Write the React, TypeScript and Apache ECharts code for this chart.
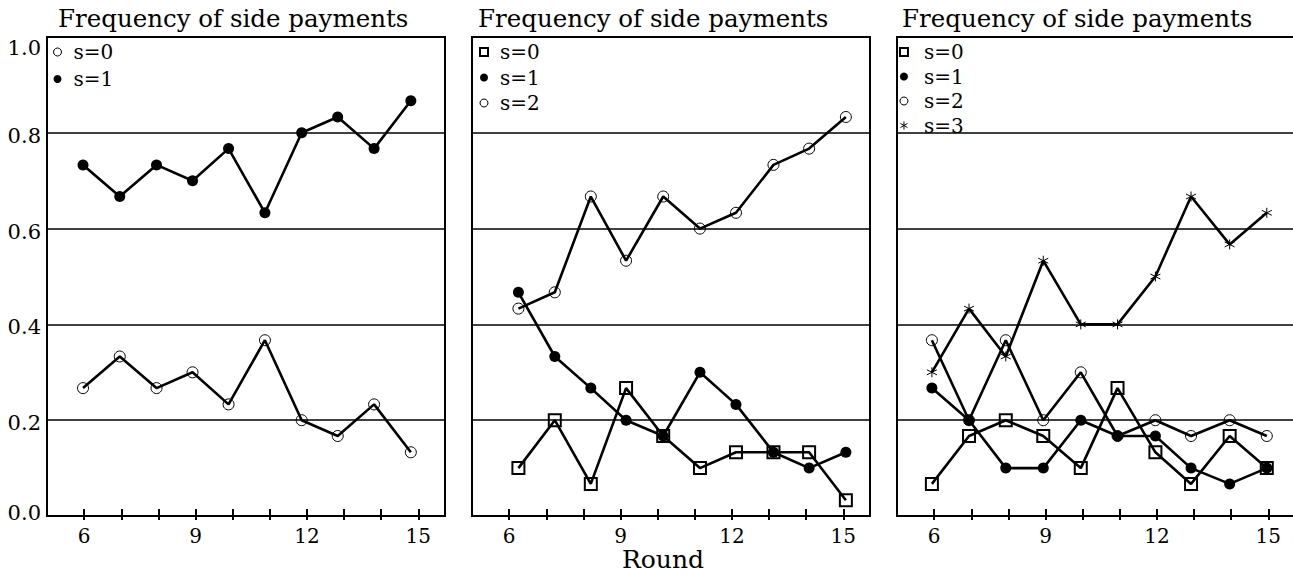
import React, { useEffect, useRef } from "react";
import * as echarts from "echarts";

// ---- data ----
const xTicks = [6, 7, 8, 9, 10, 11, 12, 13, 14, 15];
const xLabels = [6, 9, 12, 15];
const titleText = "Frequency of side payments";

// panel 1 (two states)
const panel1X = [5.97, 6.96, 7.95, 8.92, 9.89, 10.87, 11.86, 12.83, 13.81, 14.8];
const panel1S0 = [0.267, 0.333, 0.267, 0.3, 0.233, 0.367, 0.2, 0.167, 0.233, 0.133];
const panel1S1 = [0.733, 0.667, 0.733, 0.7, 0.767, 0.633, 0.8, 0.833, 0.767, 0.867];

// panel 2 (three states)
const panel2X = [6.25, 7.23, 8.2, 9.15, 10.15, 11.14, 12.11, 13.12, 14.08, 15.07];
const panel2S0 = [0.1, 0.2, 0.067, 0.267, 0.167, 0.1, 0.133, 0.133, 0.133, 0.033];
const panel2S1 = [0.467, 0.333, 0.267, 0.2, 0.167, 0.3, 0.233, 0.133, 0.1, 0.133];
const panel2S2 = [0.433, 0.467, 0.667, 0.533, 0.667, 0.6, 0.633, 0.733, 0.767, 0.833];

// panel 3 (four states)
const panel3X = [5.94, 6.94, 7.93, 8.94, 9.95, 10.94, 11.96, 12.92, 13.96, 14.96];
const panel3S0 = [0.067, 0.167, 0.2, 0.167, 0.1, 0.267, 0.133, 0.067, 0.167, 0.1];
const panel3S1 = [0.267, 0.2, 0.1, 0.1, 0.2, 0.167, 0.167, 0.1, 0.067, 0.1];
const panel3S2 = [0.367, 0.2, 0.367, 0.2, 0.3, 0.167, 0.2, 0.167, 0.2, 0.167];
const panel3S3 = [0.3, 0.433, 0.333, 0.533, 0.4, 0.4, 0.5, 0.667, 0.567, 0.633];

const FONT = "DejaVu Serif";
const STAR = "path://M0,-5L0,5M-4.33,-2.5L4.33,2.5M-4.33,2.5L4.33,-2.5";

type Marker = "hollow" | "filled" | "square" | "star";

const markerStyle = (m: Marker) => {
  switch (m) {
    case "filled":
      return { symbol: "circle", symbolSize: 11, itemStyle: { color: "#000", borderWidth: 0 } };
    case "hollow":
      return { symbol: "circle", symbolSize: 11, itemStyle: { color: "transparent", borderColor: "#000", borderWidth: 1 } };
    case "square":
      return { symbol: "rect", symbolSize: 12, itemStyle: { color: "transparent", borderColor: "#000", borderWidth: 2 } };
    case "star":
      return { symbol: STAR, symbolSize: 10, itemStyle: { color: "none", borderColor: "#000", borderWidth: 1 } };
  }
};

const legendIcon = (m: Marker) => {
  switch (m) {
    case "filled":
      return { icon: "circle", itemStyle: { color: "#000", borderWidth: 0 } };
    case "hollow":
      return { icon: "circle", itemStyle: { color: "#fff", borderColor: "#000", borderWidth: 1 } };
    case "square":
      return { icon: "rect", itemStyle: { color: "#fff", borderColor: "#000", borderWidth: 2 } };
    case "star":
      return { icon: STAR, itemStyle: { color: "none", borderColor: "#000", borderWidth: 1 } };
  }
};

const panels = [
  {
    left: 47,
    x: panel1X,
    series: [
      { label: "s=0", values: panel1S0, marker: "hollow" as Marker },
      { label: "s=1", values: panel1S1, marker: "filled" as Marker },
    ],
    titleLeft: 58,
    legendLeft: 53,
    legendTextPad: 7,
    legendGap: 7,
  },
  {
    left: 472,
    x: panel2X,
    series: [
      { label: "s=0", values: panel2S0, marker: "square" as Marker },
      { label: "s=1", values: panel2S1, marker: "filled" as Marker },
      { label: "s=2", values: panel2S2, marker: "hollow" as Marker },
    ],
    titleLeft: 478,
    legendLeft: 479,
    legendTextPad: 7,
    legendGap: 5.5,
  },
  {
    left: 897,
    x: panel3X,
    series: [
      { label: "s=0", values: panel3S0, marker: "square" as Marker },
      { label: "s=1", values: panel3S1, marker: "filled" as Marker },
      { label: "s=2", values: panel3S2, marker: "hollow" as Marker },
      { label: "s=3", values: panel3S3, marker: "star" as Marker },
    ],
    titleLeft: 902,
    legendLeft: 898,
    legendTextPad: 11,
    legendGap: 4.5,
  },
];

const GRID_TOP = 37;
const GRID_W = 398;
const GRID_H = 479;
const X_MIN = 5;
const X_MAX = 15.72;

const yLabelText = { color: "#000", fontFamily: FONT, fontSize: 21 };

export default function App() {
  const ref = useRef<HTMLDivElement>(null);

  useEffect(() => {
    if (!ref.current) return;
    const chart = echarts.init(ref.current, null, { renderer: "svg" });

    const grid: any[] = [];
    const xAxis: any[] = [];
    const yAxis: any[] = [];
    const series: any[] = [];
    const legend: any[] = [];
    const title: any[] = [];

    panels.forEach((p, i) => {
      grid.push({
        left: p.left,
        top: GRID_TOP,
        width: GRID_W,
        height: GRID_H,
        show: true,
        borderColor: "#000",
        borderWidth: 2,
        backgroundColor: "transparent",
        containLabel: false,
        outerBoundsMode: "none",
      });
      // primary x axis: line, inner part of ticks, labels
      xAxis.push({
        gridIndex: i,
        type: "value",
        min: X_MIN,
        max: X_MAX,
        position: "bottom",
        axisLine: { show: true, onZero: false, lineStyle: { color: "#000", width: 2 } },
        axisTick: { show: true, inside: true, length: 7, customValues: xTicks, lineStyle: { color: "#000", width: 2 } },
        axisLabel: {
          show: true,
          customValues: xLabels,
          color: "#000",
          fontFamily: FONT,
          fontSize: 20,
          margin: 9.5,
          lineHeight: 20,
        },
        splitLine: { show: false },
        name: i === 1 ? "Round" : "",
        nameLocation: "middle",
        nameGap: 31,
        nameMoveOverlap: false,
        nameTextStyle: { color: "#000", fontFamily: FONT, fontSize: 25, lineHeight: 25, padding: [0, 16, 0, 0] },
      });
      // secondary x axis: outer part of the crossing ticks
      xAxis.push({
        gridIndex: i,
        type: "value",
        min: X_MIN,
        max: X_MAX,
        position: "bottom",
        axisLine: { show: false, onZero: false },
        axisTick: { show: true, inside: false, length: 4, customValues: xTicks, lineStyle: { color: "#000", width: 2 } },
        axisLabel: { show: false },
        splitLine: { show: false },
      });
      yAxis.push({
        gridIndex: i,
        type: "value",
        min: 0,
        max: 1,
        interval: 0.2,
        axisLine: { show: true, lineStyle: { color: "#000", width: 2 } },
        axisTick: { show: false },
        splitLine: { show: true, lineStyle: { color: "#000", width: 1.5 } },
        axisLabel: {
          show: i === 0,
          formatter: (v: number) => {
            const t = v.toFixed(1);
            if (Math.abs(v - 1) < 1e-6) return `{t|${t}}`;
            if (Math.abs(v) < 1e-6) return `{b|${t}}`;
            return `{m|${t}}`;
          },
          ...yLabelText,
          margin: 6,
          rich: {
            t: { ...yLabelText, padding: [22, 0, 0, 0] },
            b: { ...yLabelText, padding: [0, 0, 6, 0] },
            m: { ...yLabelText, padding: [6, 0, 0, 0] },
          },
        },
      });

      p.series.forEach((s) => {
        const name = `p${i + 1}:${s.label}`;
        const ms = markerStyle(s.marker);
        series.push({
          type: "line",
          name,
          xAxisIndex: i * 2,
          yAxisIndex: i,
          data: p.x.map((xv, k) => [xv, s.values[k]]),
          symbol: ms.symbol,
          symbolSize: ms.symbolSize,
          itemStyle: ms.itemStyle,
          lineStyle: { color: "#000", width: 2.6 },
          showAllSymbol: true,
          emphasis: { disabled: true },
          silent: true,
          z: 3,
        });
      });

      legend.push({
        orient: "vertical",
        left: p.legendLeft,
        top: 42,
        padding: 0,
        itemWidth: 8,
        itemHeight: 8,
        itemGap: p.legendGap,
        selectedMode: false,
        formatter: (n: string) => n.split(":")[1],
        textStyle: {
          color: "#000",
          fontFamily: FONT,
          fontSize: 20,
          padding: [0, 0, 0, p.legendTextPad],
        },
        data: p.series.map((s) => ({ name: `p${i + 1}:${s.label}`, ...legendIcon(s.marker) })),
      });

      title.push({
        text: titleText,
        left: p.titleLeft,
        top: 6,
        padding: 0,
        textStyle: { color: "#000", fontFamily: FONT, fontSize: 24.5, lineHeight: 24, fontWeight: "normal" },
      });
    });

    chart.setOption({
      animation: false,
      backgroundColor: "#fff",
      textStyle: { fontFamily: FONT },
      title,
      legend,
      grid,
      xAxis,
      yAxis,
      series,
    });

    return () => {
      chart.dispose();
    };
  }, []);

  return (
    <div
      ref={ref}
      style={{ position: "absolute", left: 0, top: 0, width: 1293, height: 574 }}
    />
  );
}
